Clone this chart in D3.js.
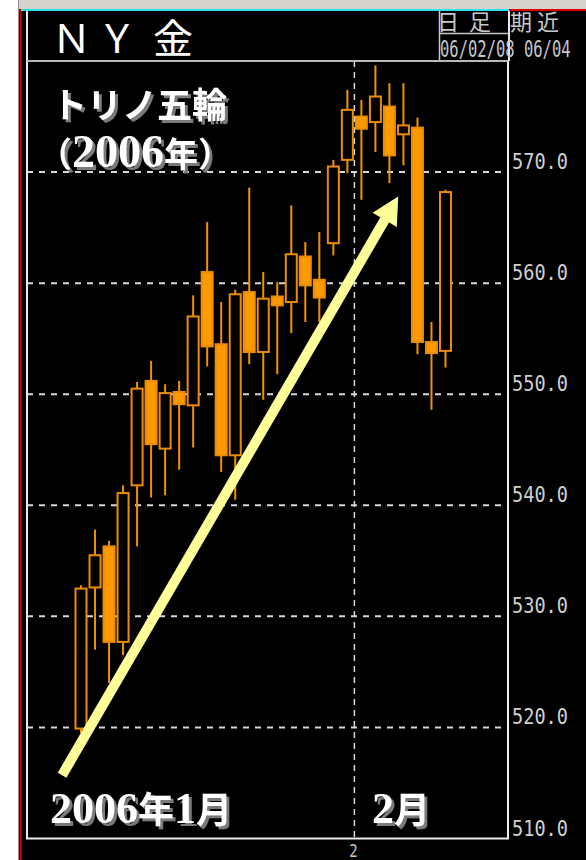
<!DOCTYPE html>
<html>
<head>
<meta charset="utf-8">
<script src="https://cdn.jsdelivr.net/npm/d3@7"></script>
<style>
html, body { margin: 0; padding: 0; background: #fff; }
svg { display: block; }
</style>
</head>
<body>
<div id="chart"></div>
<script>
// NY gold daily candles, Jan - Feb 2006
var dates = ["1/3","1/4","1/5","1/6","1/9","1/10","1/11","1/12","1/13","1/17",
             "1/18","1/19","1/20","1/23","1/24","1/25","1/26","1/27","1/30","1/31",
             "2/1","2/2","2/3","2/6","2/7","2/8","2/9"];
var opens  = [519.9,532.6,536.3,527.7,541.8,551.2,545.1,550.2,549.0,561.0,
              554.5,544.5,559.2,553.8,558.8,558.3,562.4,560.3,563.6,571.1,
              575.0,574.5,575.9,573.4,574.0,554.7,553.9];
var highs  = [532.8,537.8,536.8,541.8,551.1,553.0,550.9,551.2,558.9,565.5,
              558.3,559.4,568.6,561.0,560.1,567.0,563.7,564.6,571.1,577.4,
              576.5,579.6,578.0,578.0,574.9,556.5,568.4];
var lows   = [519.5,527.0,524.0,526.5,536.3,540.7,540.9,543.2,545.2,552.5,
              543.0,540.5,552.7,549.5,551.8,555.5,556.5,556.5,562.5,569.9,
              567.5,571.8,569.0,570.6,553.6,548.6,552.4];
var closes = [532.5,535.5,527.7,541.1,550.5,545.5,550.1,549.1,557.0,554.3,
              544.5,559.0,553.8,558.6,558.0,562.6,559.8,558.7,570.5,575.6,
              573.9,576.8,571.5,574.2,554.7,553.7,568.2];
var yTicks = [510, 520, 530, 540, 550, 560, 570];
var monthStarts = [{date: "2/1", label: "2"}];

// annotation arrow, in (candle index, price)
var arrowFrom = {i: -1.35, v: 515.7};
var arrowTo = {i: 22.63, v: 567.8};

var W = 586, H = 860;
var plot = {left: 27, right: 508, top: 61, bottom: 838.5};

var serif = "'Liberation Serif','DejaVu Serif',serif";
var gothic = "'Noto Sans CJK JP','Noto Sans',sans-serif";
var mono = "'DejaVu Sans Mono','Liberation Mono',monospace";

var svg = d3.select("#chart").append("svg")
    .attr("width", W)
    .attr("height", H);

// drop shadow for the big captions
var f = svg.append("defs").append("filter").attr("id", "shadow")
    .attr("x", "-10%").attr("y", "-10%").attr("width", "130%").attr("height", "130%");
f.append("feOffset").attr("in", "SourceAlpha").attr("dx", 2.5).attr("dy", 2.5).attr("result", "off");
f.append("feFlood").attr("flood-color", "#7a7a7a");
f.append("feComposite").attr("in2", "off").attr("operator", "in").attr("result", "sh");
var fm = f.append("feMerge");
fm.append("feMergeNode").attr("in", "sh");
fm.append("feMergeNode").attr("in", "SourceGraphic");

// window frame
svg.append("rect").attr("width", W).attr("height", H).attr("fill", "#fff");
svg.append("rect").attr("x", 18).attr("y", 0).attr("width", W - 18).attr("height", 9).attr("fill", "#d6d3cc");
svg.append("rect").attr("x", 18).attr("y", 9).attr("width", W - 18).attr("height", H - 9).attr("fill", "#000");
svg.append("line").attr("x1", 18.5).attr("x2", 18.5).attr("y1", 0).attr("y2", H).attr("stroke", "#8a8a8a");
svg.append("line").attr("x1", 20.5).attr("x2", 20.5).attr("y1", 9).attr("y2", H).attr("stroke", "#e00000").attr("stroke-width", 2);
svg.append("line").attr("x1", 21).attr("x2", 509).attr("y1", 10).attr("y2", 10).attr("stroke", "#30e0e8").attr("stroke-width", 2);
svg.append("line").attr("x1", 509).attr("x2", W).attr("y1", 10).attr("y2", 10).attr("stroke", "#e00000").attr("stroke-width", 2);

// header box
svg.append("line").attr("x1", 27).attr("x2", 27).attr("y1", 11).attr("y2", 61).attr("stroke", "#e8e8e8").attr("stroke-width", 2);
svg.append("line").attr("x1", 27).attr("x2", 509).attr("y1", 61).attr("y2", 61).attr("stroke", "#b8b8b8").attr("stroke-width", 2);
svg.append("line").attr("x1", 439.5).attr("x2", 439.5).attr("y1", 11).attr("y2", 61).attr("stroke", "#c8c8c8").attr("stroke-width", 1.5);
svg.append("line").attr("x1", 439).attr("x2", 509).attr("y1", 33.5).attr("y2", 33.5).attr("stroke", "#c8c8c8").attr("stroke-width", 1.5);
svg.append("line").attr("x1", 509).attr("x2", 509).attr("y1", 11).attr("y2", 61).attr("stroke", "#e8e8e8").attr("stroke-width", 2);

var title = svg.append("g").attr("font-family", gothic).attr("font-size", 40).attr("fill", "#fff").attr("text-anchor", "middle");
[["Ｎ", 71.5], ["Ｙ", 117], ["金", 173]].forEach(function(c) {
    title.append("text").attr("x", c[1]).attr("y", 53).text(c[0]);
});
var hdr = svg.append("g").attr("font-family", gothic).attr("font-size", 22).attr("fill", "#c8c8c8").attr("text-anchor", "middle");
[["日", 448], ["足", 480], ["期", 521], ["近", 548]].forEach(function(c) {
    hdr.append("text").attr("x", c[1]).attr("y", 30).text(c[0]);
});
svg.append("text")
    .attr("transform", "translate(440,57) scale(1,1.5)")
    .attr("font-family", mono).attr("font-size", 15.5).attr("fill", "#c8c8c8")
    .text("06/02/08 06/04");

// scales
var x = d3.scaleBand().domain(dates).range([74, 452.5]);
var y = d3.scaleLinear().domain([510, 580]).range([plot.bottom, plot.top]);
var bw = x.bandwidth();
function xi(i) { return x(dates[0]) + x.step() * i + bw / 2; }

// grid
var grid = svg.append("g").attr("stroke", "#d8d8d8").attr("stroke-width", 2).attr("stroke-dasharray", "6,6");
grid.selectAll("line.h")
    .data(yTicks.filter(function(v) { return v > 510; }))
    .enter().append("line")
    .attr("x1", plot.left).attr("x2", plot.right)
    .attr("y1", function(d) { return y(d); })
    .attr("y2", function(d) { return y(d); });
grid.selectAll("line.v")
    .data(monthStarts)
    .enter().append("line")
    .attr("stroke-width", 1.5)
    .attr("stroke-dasharray", "6,5")
    .attr("x1", function(d) { return x(d.date); })
    .attr("x2", function(d) { return x(d.date); })
    .attr("y1", plot.top).attr("y2", plot.bottom);

// candles
var candles = dates.map(function(d, i) {
    return {date: d, o: opens[i], h: highs[i], l: lows[i], c: closes[i]};
});
var cg = svg.append("g").selectAll("g")
    .data(candles)
    .enter().append("g")
    .attr("transform", function(d) { return "translate(" + (x(d.date) + bw / 2) + ",0)"; });
cg.append("line")
    .attr("y1", function(d) { return y(d.h); })
    .attr("y2", function(d) { return y(d.l); })
    .attr("stroke", "#f29200").attr("stroke-width", 2);
cg.append("rect")
    .attr("x", -5.5).attr("width", 11)
    .attr("y", function(d) { return y(Math.max(d.o, d.c)); })
    .attr("height", function(d) { return Math.max(1, Math.abs(y(d.o) - y(d.c))); })
    .attr("fill", function(d) { return d.c >= d.o ? "#000" : "#ff9900"; })
    .attr("stroke", "#ec8c00").attr("stroke-width", 2);

// plot border
svg.append("rect")
    .attr("x", plot.left).attr("y", plot.top)
    .attr("width", plot.right - plot.left).attr("height", plot.bottom - plot.top)
    .attr("fill", "none").attr("stroke", "#ececec").attr("stroke-width", 2);
svg.append("line").attr("x1", plot.left).attr("x2", plot.right).attr("y1", plot.top).attr("y2", plot.top)
    .attr("stroke", "#b8b8b8").attr("stroke-width", 2);

// price labels
svg.append("g").selectAll("text")
    .data(yTicks)
    .enter().append("text")
    .attr("transform", function(d) { return "translate(512," + (y(d) - 3) + ") scale(1,1.17)"; })
    .attr("font-family", mono).attr("font-size", 18.6).attr("fill", "#d0d0d0")
    .text(function(d) { return d3.format(".1f")(d); });

// month tick label
svg.append("g").selectAll("text")
    .data(monthStarts)
    .enter().append("text")
    .attr("transform", function(d) { return "translate(" + (x(d.date) - 1) + ",857) scale(1,1.2)"; })
    .attr("text-anchor", "middle")
    .attr("font-family", mono).attr("font-size", 14).attr("fill", "#c8c8c8")
    .text(function(d) { return d.label; });

// arrow
var p0 = [xi(arrowFrom.i), y(arrowFrom.v)], p1 = [xi(arrowTo.i), y(arrowTo.v)];
var dx = p1[0] - p0[0], dy = p1[1] - p0[1], len = Math.sqrt(dx * dx + dy * dy);
var ux = dx / len, uy = dy / len, nx = -uy, ny = ux;
var headL = 27, headW = 14;
var base = [p1[0] - ux * headL, p1[1] - uy * headL];
svg.append("line")
    .attr("x1", p0[0]).attr("y1", p0[1])
    .attr("x2", base[0] + ux * 2).attr("y2", base[1] + uy * 2)
    .attr("stroke", "#ffff99").attr("stroke-width", 10);
svg.append("path")
    .attr("d", d3.line()([p1, [base[0] + nx * headW, base[1] + ny * headW], [base[0] - nx * headW, base[1] - ny * headW]]) + "Z")
    .attr("fill", "#ffff99");

// annotation text with drop shadow
function caption(x0, y0, parts) {
    var t = svg.append("text")
        .attr("x", x0).attr("y", y0)
        .attr("fill", "#fff").attr("font-weight", "bold")
        .attr("filter", "url(#shadow)");
    parts.forEach(function(p) {
        t.append("tspan").attr("font-family", p[1]).attr("font-size", p[2]).text(p[0]);
    });
}
caption(52, 118, [["トリノ五輪", gothic, 35]]);
caption(38, 167, [["（", gothic, 34], ["2006", serif, 46], ["年", gothic, 34], ["）", gothic, 34]]);
caption(50, 823, [["2006", serif, 44], ["年", gothic, 36], ["1", serif, 44], ["月", gothic, 36]]);
caption(372, 823, [["2", serif, 44], ["月", gothic, 36]]);
</script>
</body>
</html>
